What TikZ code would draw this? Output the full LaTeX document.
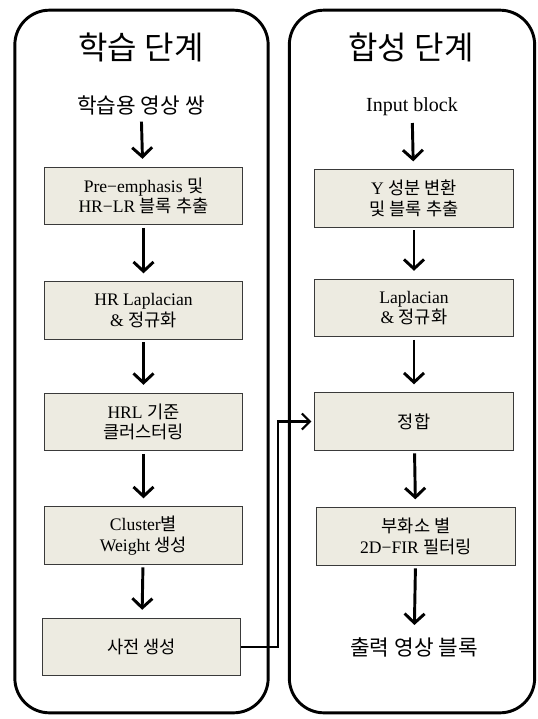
\documentclass[tikz,border=0pt]{standalone}
\usepackage{fontspec}
\setmainfont{Liberation Serif}
\newfontfamily\kr{Noto Sans CJK KR}
\usepackage{tikz}
\usetikzlibrary{arrows.meta, positioning}
\definecolor{boxfill}{HTML}{EDEBE1}
\definecolor{boxline}{HTML}{3A3A3A}

\begin{document}
\begin{tikzpicture}[x=0.75pt, y=-0.75pt]
  \tikzstyle{panel}=[draw, line width=2.2pt, rounded corners=26pt,
    minimum height=527pt, inner sep=0pt]
  \tikzstyle{stage}=[draw=boxline, fill=boxfill, line width=0.8pt,
    minimum width=149pt, minimum height=43pt, align=center,
    font=\fontsize{13.2}{15.5}\selectfont]
  \tikzstyle{title}=[font=\kr\fontsize{24}{28}\selectfont]
  \tikzstyle{io}=[font=\fontsize{16}{19}\selectfont, inner sep=3pt]
  \tikzstyle{flow}=[line width=2.2pt,
    -{Straight Barb[length=7pt, width=15pt]},
    shorten <=2pt, shorten >=6pt]

  \useasboundingbox (0,0) rectangle (538,719);

  % panels
  \node[panel, minimum width=190pt] (lpanel) at (141.5,361.5) {};
  \node[panel, minimum width=184pt] (rpanel) at (412,361.5) {};

  % training side
  \node[title] (ltitle) at (141,47) {학습 단계};
  \node[io] (lin) at (141,105) {\kr 학습용 영상 쌍};
  \node[stage] (a) at (143.5,196)   {Pre−emphasis {\kr 및}\\HR−LR {\kr 블록 추출}};
  \node[stage] (b) at (143.5,310.5) {HR Laplacian\\\& {\kr 정규화}};
  \node[stage] (c) at (143.5,422)   {HRL {\kr 기준}\\{\kr 클러스터링}};
  \node[stage] (d) at (143.5,535.5) {Cluster{\kr 별}\\Weight {\kr 생성}};
  \node[stage] (e) at (141.5,647)   {\kr 사전 생성};

  % synthesis side
  \node[title] (rtitle) at (411,47) {합성 단계};
  \node[io, font=\fontsize{15}{18}\selectfont] (rin) at (412,107) {Input block};
  \node[stage] (f) at (414,198.5) {Y {\kr 성분 변환}\\{\kr 및 블록 추출}};
  \node[stage] (g) at (414,308)   {Laplacian\\\& {\kr 정규화}};
  \node[stage] (h) at (414,421.5) {\kr 정합};
  \node[stage] (i) at (416,536.5) {{\kr 부화소 별}\\2D−FIR {\kr 필터링}};
  \node[io] (rout) at (414,647) {\kr 출력 영상 블록};

  \draw[flow] (lin)--(a);
  \draw[flow] (a)--(b);
  \draw[flow] (b)--(c);
  \draw[flow] (c)--(d);
  \draw[flow] (d)--(e);

  \draw[flow] (rin)--(f);
  \draw[flow] (f)--(g);
  \draw[flow] (g)--(h);
  \draw[flow] (h)--(i);
  \draw[flow] (i)--(rout);

  % dictionary feeds matching
  \draw[line width=1.6pt, -{Straight Barb[length=6pt, width=12pt]},
    shorten >=2pt] (e.east) -- ++(37,0) |- (h.west);
\end{tikzpicture}
\end{document}
